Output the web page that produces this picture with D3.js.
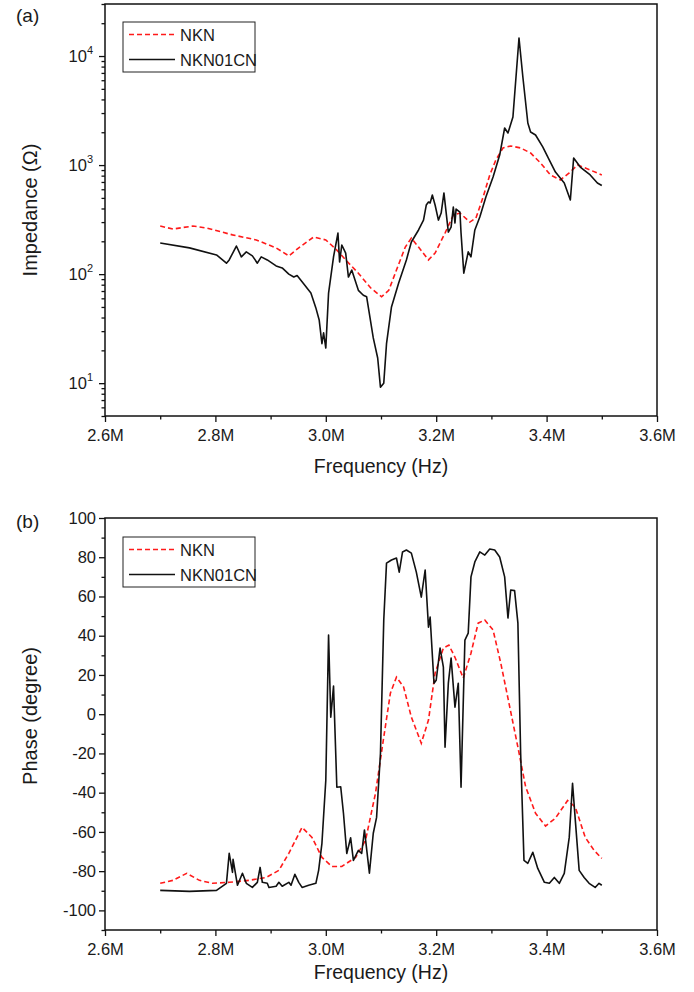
<!DOCTYPE html>
<html><head><meta charset="utf-8">
<script src="https://cdn.jsdelivr.net/npm/d3@7"></script>
<style>
body{margin:0;background:#fff}
text{font-family:"Liberation Sans",Arial,sans-serif;fill:#1a1a1a}
</style>
</head><body><svg id="c" width="694" height="992"></svg>
<script>
// ---------- data (frequency in MHz) ----------
const freqImpNKN = [2.700,2.723,2.759,2.784,2.831,2.874,2.910,2.933,2.951,2.978,3.000,3.020,3.036,3.059,3.081,3.101,3.114,3.128,3.144,3.155,3.168,3.186,3.198,3.216,3.231,3.243,3.261,3.272,3.285,3.297,3.308,3.321,3.335,3.353,3.371,3.389,3.407,3.425,3.441,3.456,3.479,3.500];
const impNKN = [276,259,276,265,229,206,174,147,174,219,206,166,135,102,75,62,71,109,177,214,177,135,156,238,348,363,300,327,509,811,1112,1435,1497,1435,1291,1045,811,730,846,1002,901,811];

const freqImpCN = [2.700,2.753,2.802,2.820,2.825,2.838,2.847,2.856,2.867,2.876,2.883,2.894,2.910,2.921,2.933,2.942,2.948,2.957,2.973,2.982,2.988,2.993,2.996,3.000,3.005,3.014,3.022,3.025,3.029,3.036,3.041,3.047,3.059,3.068,3.074,3.086,3.094,3.099,3.105,3.110,3.119,3.132,3.146,3.155,3.168,3.177,3.182,3.186,3.189,3.193,3.198,3.204,3.209,3.214,3.222,3.227,3.231,3.234,3.236,3.243,3.245,3.250,3.258,3.263,3.270,3.279,3.290,3.303,3.315,3.324,3.330,3.339,3.350,3.357,3.366,3.371,3.380,3.393,3.405,3.416,3.432,3.443,3.449,3.461,3.479,3.492,3.500];
const impCN = [193,174,150,126,135,181,144,160,147,126,144,135,119,114,100,94,97,85,67,49,38,23,29,21,67,144,238,129,185,156,94,109,71,64,62,26,17,9.2,10,23,50,83,135,197,254,313,430,458,449,532,430,313,363,555,243,270,412,294,395,371,238,102,160,144,254,334,509,778,1236,2188,1968,2761,14620,6427,2432,2010,1888,1466,1112,863,685,478,1161,960,811,685,650];

const freqPhNKN = [2.700,2.723,2.748,2.771,2.795,2.825,2.861,2.892,2.915,2.933,2.957,2.975,2.993,3.011,3.029,3.054,3.072,3.090,3.105,3.117,3.128,3.141,3.155,3.173,3.186,3.198,3.213,3.223,3.234,3.249,3.263,3.276,3.288,3.303,3.317,3.333,3.348,3.362,3.380,3.398,3.416,3.438,3.452,3.470,3.486,3.500];
const phNKN = [-86.2,-84.7,-81.1,-84.7,-86.2,-85.7,-84.7,-83.2,-79.6,-70.9,-57.7,-62.8,-73,-77.6,-77.6,-73,-64.3,-40.3,-11.7,10.7,18.9,13.8,-1.5,-14.8,-3,20.9,33.7,35.2,29,18.4,31.1,46.4,48,42.9,26,4,-16.8,-37,-50.5,-57,-53,-44,-47.4,-62.8,-69.4,-73.5];

const freqPhCN = [2.700,2.753,2.802,2.820,2.825,2.831,2.832,2.840,2.849,2.856,2.867,2.876,2.881,2.885,2.894,2.897,2.910,2.915,2.921,2.933,2.937,2.944,2.951,2.957,2.969,2.982,2.987,2.993,3.000,3.005,3.009,3.014,3.020,3.027,3.032,3.038,3.045,3.050,3.059,3.065,3.070,3.079,3.086,3.092,3.099,3.105,3.110,3.119,3.128,3.133,3.139,3.146,3.155,3.164,3.173,3.180,3.186,3.189,3.196,3.200,3.207,3.213,3.216,3.222,3.227,3.234,3.240,3.245,3.252,3.258,3.263,3.270,3.279,3.288,3.297,3.306,3.315,3.324,3.330,3.335,3.342,3.348,3.353,3.359,3.366,3.375,3.384,3.396,3.405,3.414,3.423,3.432,3.441,3.447,3.452,3.459,3.468,3.477,3.488,3.495,3.500];
const phCN = [-89.8,-90.3,-89.8,-86.2,-70.9,-80.6,-74,-87.2,-81.1,-86.2,-88.3,-85.7,-78.1,-85.7,-86.2,-88.3,-87.7,-85.7,-87.7,-85.7,-87.2,-81.6,-85.7,-88.3,-87.2,-86.2,-79.6,-65.8,-33.7,40.3,-1.5,14.3,-37.2,-37,-50.5,-71,-63,-74.5,-69.4,-71,-59,-81,-60.7,-52.6,-20,48,77,78.6,79.6,72.4,82.7,83.7,82.1,72.4,59.7,73.5,44.4,49.5,15.8,17.3,33.7,24,-16.8,15.8,28.6,3.6,15.8,-37.2,37.8,41.3,70,77.6,82.7,81.1,84.2,83.7,80.1,70,49,63.3,63,46.4,-20,-74.5,-76,-70.4,-78.6,-85.7,-86.2,-83.2,-86.2,-81.1,-62.8,-35.2,-54,-79.6,-83.2,-86.2,-88.3,-86.2,-87.2];

const xTickVals = [2.6,2.8,3.0,3.2,3.4,3.6];
const xMinorVals = [2.7,2.9,3.1,3.3,3.5];
const impTickExps = [1,2,3,4];
const phTickVals = [-100,-80,-60,-40,-20,0,20,40,60,80,100];
const phMinorVals = [-110,-90,-70,-50,-30,-10,10,30,50,70,90];
const seriesNames = ["NKN","NKN01CN"];

// ---------- drawing ----------
const svg = d3.select("#c");
const L = 105, R = 657;
const RED = "#ff1a1a", BLK = "#111";
const FONT = '"Liberation Sans",Arial,sans-serif';
const TICKFS = 16.5, TITLEFS = 19.5;
const x = d3.scaleLinear().domain([2.6,3.6]).range([L,R]);

function frame(top, bottom){
  svg.append("rect").attr("x",L).attr("y",top).attr("width",R-L).attr("height",bottom-top)
    .attr("fill","none").attr("stroke","#111").attr("stroke-width",1.5);
}
function xAxis(bottom, titleY){
  const g = svg.append("g").attr("transform",`translate(0,${bottom})`);
  g.call(d3.axisBottom(x).tickValues(xTickVals).tickSize(6).tickFormat(d=>d.toFixed(1)+"M"));
  g.append("g").call(d3.axisBottom(x).tickValues(xMinorVals).tickSize(3.5).tickFormat(""));
  g.selectAll("path.domain").remove();
  g.selectAll("line").attr("stroke","#111").attr("stroke-width",1.3);
  g.selectAll("text").attr("font-size",TICKFS).attr("dy","0.95em").attr("font-family",FONT).attr("fill","#1a1a1a");
  svg.append("text").attr("x",(L+R)/2).attr("y",titleY).attr("text-anchor","middle").attr("font-size",TITLEFS).text("Frequency (Hz)");
}
function legend(top){
  const g = svg.append("g");
  const t1 = 16.5;
  g.append("rect").attr("x",123).attr("y",top).attr("width",132).attr("height",50).attr("fill","#fff").attr("stroke","#222").attr("stroke-width",1);
  g.append("line").attr("x1",129).attr("x2",175).attr("y1",top+12.5).attr("y2",top+12.5).attr("stroke",RED).attr("stroke-width",1.5).attr("stroke-dasharray","5,3");
  g.append("line").attr("x1",129).attr("x2",175).attr("y1",top+37.5).attr("y2",top+37.5).attr("stroke",BLK).attr("stroke-width",1.5);
  g.append("text").attr("x",180).attr("y",top+18.5).attr("font-size",t1).text(seriesNames[0]);
  g.append("text").attr("x",180).attr("y",top+43.5).attr("font-size",t1).text(seriesNames[1]);
}

// ----- panel (a) -----
const aTop = 4, aBot = 416;
const yA = d3.scaleLog().domain([5,30000]).range([aBot,aTop]);
const gyA = svg.append("g").attr("transform",`translate(${L},0)`);
gyA.call(d3.axisLeft(yA).tickValues(impTickExps.map(e=>Math.pow(10,e))).tickSize(6).tickFormat(""));
const minorA = [];
for (let e=0;e<=4;e++) for (let m=2;m<=9;m++){ const v=m*Math.pow(10,e); if(v>=5&&v<=30000) minorA.push(v); }
gyA.append("g").call(d3.axisLeft(yA).tickValues(minorA).tickSize(3.5).tickFormat(""));
gyA.selectAll("path.domain").remove();
gyA.selectAll("line").attr("stroke","#111").attr("stroke-width",1.3);
impTickExps.forEach(e=>{
  const t = svg.append("text").attr("x",L-12).attr("y",yA(Math.pow(10,e))+6).attr("text-anchor","end").attr("font-size",TICKFS);
  t.append("tspan").text("10");
  t.append("tspan").attr("font-size",11).attr("dy",-8).text(e);
});
svg.append("text").attr("transform",`translate(37,${(aTop+aBot)/2}) rotate(-90)`).attr("text-anchor","middle").attr("font-size",TITLEFS+0.5).text("Impedance (\u03A9)");
svg.append("text").attr("x",16).attr("y",22).attr("font-size",19).text("(a)");

const lineA = d3.line().x(d=>x(d[0])).y(d=>yA(d[1]));
svg.append("path").datum(d3.zip(freqImpNKN, impNKN)).attr("d",lineA).attr("fill","none").attr("stroke",RED).attr("stroke-width",1.6).attr("stroke-dasharray","5,3");
svg.append("path").datum(d3.zip(freqImpCN, impCN)).attr("d",lineA).attr("fill","none").attr("stroke",BLK).attr("stroke-width",1.6).attr("stroke-linejoin","round");
frame(aTop,aBot);
xAxis(aBot, 473);
legend(22);

// ----- panel (b) -----
const bTop = 518, bBot = 930;
const yB = d3.scaleLinear().domain([-110,100]).range([bBot,bTop]);
const gyB = svg.append("g").attr("transform",`translate(${L},0)`);
gyB.call(d3.axisLeft(yB).tickValues(phTickVals).tickSize(6).tickFormat(d=>d));
gyB.append("g").call(d3.axisLeft(yB).tickValues(phMinorVals).tickSize(3.5).tickFormat(""));
gyB.selectAll("path.domain").remove();
gyB.selectAll("line").attr("stroke","#111").attr("stroke-width",1.3);
gyB.selectAll("text").attr("font-size",TICKFS).attr("font-family",FONT).attr("fill","#1a1a1a").attr("x",-9);
svg.append("text").attr("transform",`translate(37,${(bTop+bBot)/2 - 8}) rotate(-90)`).attr("text-anchor","middle").attr("font-size",TITLEFS+0.5).text("Phase (degree)");
svg.append("text").attr("x",16).attr("y",528).attr("font-size",19).text("(b)");

const lineB = d3.line().x(d=>x(d[0])).y(d=>yB(d[1]));
svg.append("path").datum(d3.zip(freqPhNKN, phNKN)).attr("d",lineB).attr("fill","none").attr("stroke",RED).attr("stroke-width",1.6).attr("stroke-dasharray","5,3");
svg.append("path").datum(d3.zip(freqPhCN, phCN)).attr("d",lineB).attr("fill","none").attr("stroke",BLK).attr("stroke-width",1.6).attr("stroke-linejoin","round");
frame(bTop,bBot);
xAxis(bBot, 979);
legend(537);
</script>
</body></html>
